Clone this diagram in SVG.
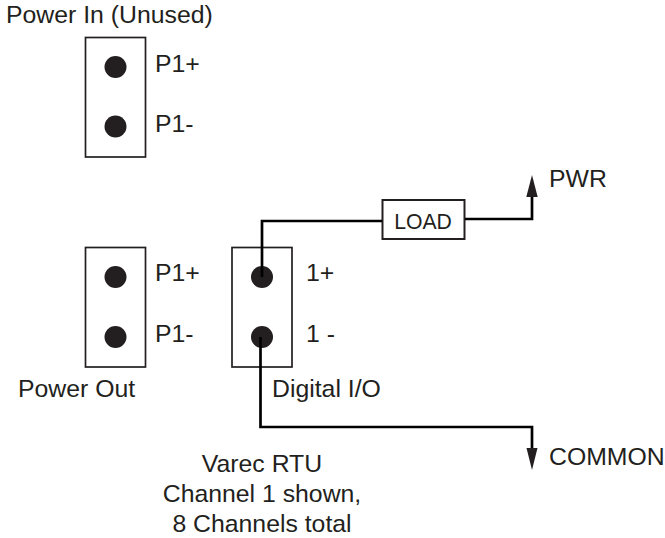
<svg xmlns="http://www.w3.org/2000/svg" width="665" height="538" viewBox="0 0 665 538">
<style>
text{font-family:"Liberation Sans",Arial,sans-serif;font-size:24.800px;fill:#231f20}
.box{fill:#fff;stroke:#231f20;stroke-width:1.700}
.dot{fill:#231f20}
.wire{fill:none;stroke:#000;stroke-width:2.700}
.head{fill:#231f20}
</style>
<rect width="665" height="538" fill="#fff"/>
<g id="power-in"><rect class="box" x="85.500" y="37.500" width="60" height="119.500"/><circle class="dot" cx="115.500" cy="67" r="11"/><circle class="dot" cx="115.500" cy="126.500" r="11"/>
<text x="155" y="72">P1+</text><text x="155" y="132">P1-</text><text x="6" y="23">Power In (Unused)</text></g>
<g id="power-out"><rect class="box" x="85.500" y="247.500" width="60" height="119.500"/><circle class="dot" cx="115.500" cy="277" r="11"/><circle class="dot" cx="115.500" cy="337" r="11"/>
<text x="155" y="281">P1+</text><text x="155" y="342">P1-</text><text x="18" y="397">Power Out</text></g>
<g id="digital-io"><rect class="box" x="232" y="247.500" width="60" height="119.500"/><circle class="dot" cx="262" cy="277" r="11"/><circle class="dot" cx="262" cy="337" r="11"/>
<text x="306" y="281">1+</text><text x="306" y="342">1 -</text><text x="272" y="397">Digital I/O</text></g>
<g id="load"><rect x="382.500" y="200" width="82" height="39" fill="#fff" stroke="#231f20" stroke-width="2"/><text x="423" y="229" text-anchor="middle" style="font-size:21.200px">LOAD</text></g>
<g id="pwr"><text x="549" y="187">PWR</text></g>
<g id="common"><text x="549" y="465">COMMON</text></g>
<g id="caption"><text x="262" y="472" text-anchor="middle">Varec RTU</text><text x="262" y="502" text-anchor="middle">Channel 1 shown,</text><text x="262" y="532" text-anchor="middle">8 Channels total</text></g>
<g id="connectors">
<path class="wire" d="M262 277V221H382"/>
<path class="wire" d="M465 219H532V195"/>
<path class="head" d="M532 175L537.700 197H526.300Z"/>
<path class="wire" d="M260.500 337V427H532V450"/>
<path class="head" d="M532 470L526.500 448H537.500Z"/>
</g>
</svg>
